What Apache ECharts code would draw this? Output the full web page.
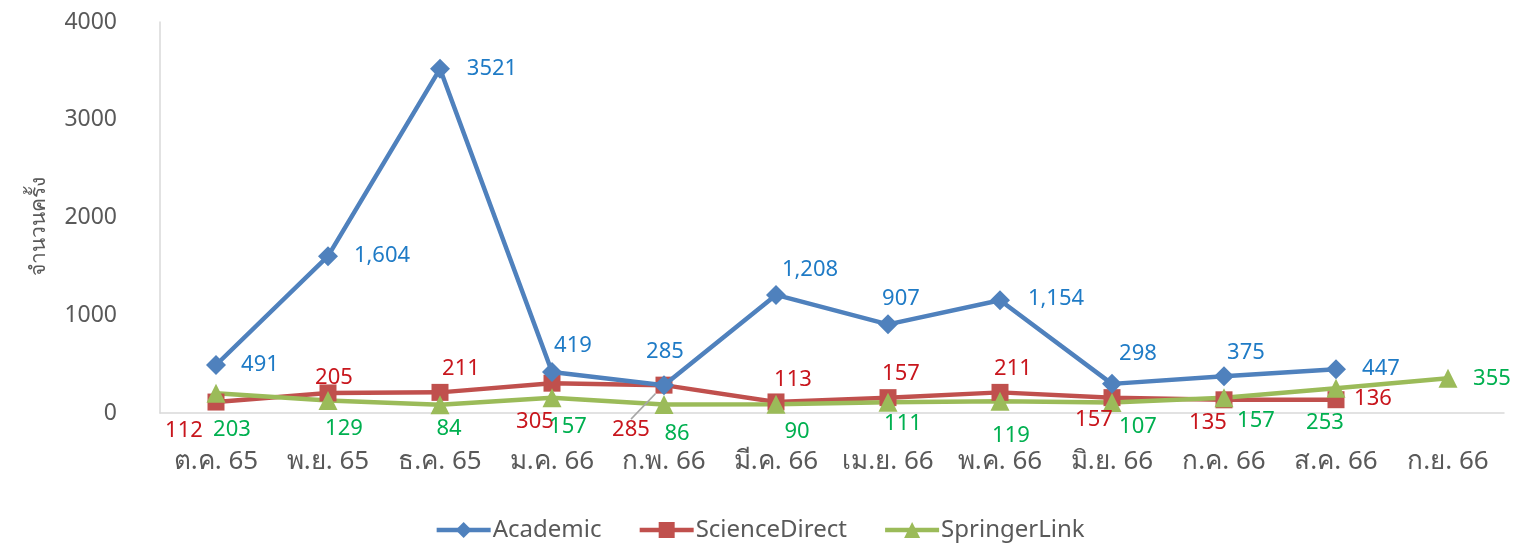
<!DOCTYPE html>
<html>
<head>
<meta charset="utf-8">
<script src="https://cdn.jsdelivr.net/npm/echarts@6/dist/echarts.min.js"></script>
<style>
  html, body { margin: 0; padding: 0; background: #fff; }
  #chart { width: 1519px; height: 547px; }
</style>
</head>
<body>
<div id="chart"></div>
<script>
  // ข้อมูล
  var months = ['ต.ค. 65', 'พ.ย. 65', 'ธ.ค. 65', 'ม.ค. 66', 'ก.พ. 66', 'มี.ค. 66',
                'เม.ย. 66', 'พ.ค. 66', 'มิ.ย. 66', 'ก.ค. 66', 'ส.ค. 66', 'ก.ย. 66'];
  var academic = [491, 1604, 3521, 419, 285, 1208, 907, 1154, 298, 375, 447, null];
  var scienceDirect = [112, 205, 211, 305, 285, 113, 157, 211, 157, 135, 136, null];
  var springerLink = [203, 129, 84, 157, 86, 90, 111, 119, 107, 157, 253, 355];
  var yTicks = [0, 1000, 2000, 3000, 4000];

  // ตำแหน่งป้ายกำกับ (dx, dy จากจุด)
  var academicOff = [[44, 0], [54, 0], [52, 0], [21, -26], [1, -33], [34, -25], [13, -26], [56, -1], [26, -30], [22, -24], [45, -1], [0, 0]];
  var scienceOff = [[-32, 29], [6, -15], [21, -24], [-17, 39], [-33, 45], [17, -22], [13, -24], [13, -24], [-18, 22], [-16, 23], [37, -1], [0, 0]];
  var springerOff = [[16, 37], [16, 28], [9, 24], [16, 29], [13, 29], [21, 28], [15, 22], [11, 34], [26, 24], [32, 23], [-11, 34], [44, 0]];

  var myChart = echarts.init(document.getElementById('chart'));

  // Academic ใช้คอมมา ยกเว้น 3521
  function fmt(p) {
    if (p.seriesIndex === 0 && p.value >= 1000 && p.dataIndex !== 2) {
      return p.value.toLocaleString('en-US');
    }
    return p.value;
  }

  function makeSeries(name, values, offs, lineColor, labelColor, symbol, size) {
    return {
      name: name,
      type: 'line',
      data: values.map(function (v, i) {
        var item = { value: v };
        if (name === 'ScienceDirect' && i === 4) {
          item.labelLine = { show: true, lineStyle: { color: '#A6A6A6', width: 1.5 } };
        }
        return item;
      }),
      symbol: symbol,
      symbolSize: size,
      showAllSymbol: true,
      lineStyle: { color: lineColor, width: 4.5 },
      itemStyle: { color: lineColor },
      label: {
        show: true,
        position: 'inside',
        color: labelColor,
        fontSize: 22,
        fontFamily: 'Noto Sans, sans-serif',
        formatter: fmt
      },
      labelLayout: function (p) {
        var o = offs[p.dataIndex] || [0, 0];
        return { dx: o[0], dy: o[1] };
      },
      labelLine: { show: false },
      emphasis: { disabled: true },
      z: name === 'Academic' ? 3 : 2
    };
  }

  var option = {
    animation: false,
    textStyle: { fontFamily: 'Noto Sans, sans-serif' },
    grid: { left: 160, right: 15, top: 22, bottom: 134 },
    legend: {
      bottom: 0,
      left: 'center',
      itemWidth: 54,
      itemHeight: 20,
      itemGap: 36,
      lineStyle: { width: 4.5 },
      textStyle: { color: '#595959', fontSize: 24, padding: [0, 0, 0, -3] },
      data: ['Academic', 'ScienceDirect', 'SpringerLink']
    },
    xAxis: {
      type: 'category',
      data: months,
      boundaryGap: true,
      axisLine: { lineStyle: { color: '#D9D9D9', width: 1.5 } },
      axisTick: { show: false },
      axisLabel: { color: '#595959', fontSize: 26, margin: 36, interval: 0 }
    },
    yAxis: {
      type: 'value',
      min: yTicks[0],
      max: yTicks[yTicks.length - 1],
      interval: 1000,
      name: 'จำนวนครั้ง',
      nameLocation: 'middle',
      nameRotate: 90,
      nameGap: 110,
      nameTextStyle: { color: '#595959', fontSize: 21, padding: [0, 0, 0, -18] },
      axisLine: { show: true, lineStyle: { color: '#D9D9D9', width: 1.5 } },
      axisTick: { show: false },
      splitLine: { show: false },
      axisLabel: { color: '#595959', fontSize: 23, margin: 43, formatter: function (v) { return String(v); } }
    },
    series: [
      makeSeries('Academic', academic, academicOff, '#4F81BD', '#1F7BC6', 'diamond', 20),
      makeSeries('ScienceDirect', scienceDirect, scienceOff, '#C0504D', '#C8161D', 'rect', 17),
      makeSeries('SpringerLink', springerLink, springerOff, '#9BBB59', '#00B050', 'triangle', 19)
    ]
  };

  myChart.setOption(option);
</script>
</body>
</html>
